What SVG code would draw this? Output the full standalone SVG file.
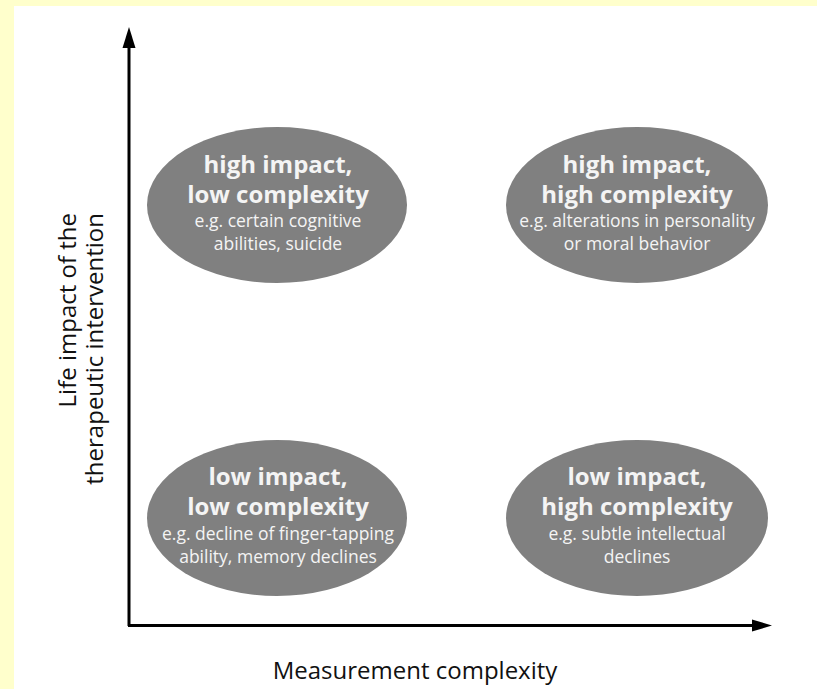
<svg xmlns="http://www.w3.org/2000/svg" width="817" height="689" viewBox="0 0 817 689">
  <style>
    .bubble { fill: #808080; }
    .head { font-family: "Open Sans", "Liberation Sans", sans-serif; font-weight: bold; font-size: 24px; fill: #f4f4f4; text-anchor: middle; }
    .note { font-family: "Open Sans", "Liberation Sans", sans-serif; font-size: 17.5px; fill: #f4f4f4; text-anchor: middle; }
    .axis-label { font-family: "Open Sans", "Liberation Sans", sans-serif; font-size: 24px; fill: #111; }
    .axis { stroke: #000; stroke-width: 3; fill: none; }
  </style>

  <!-- page background -->
  <rect x="0" y="0" width="817" height="689" fill="#ffffcc"/>
  <rect x="14" y="6" width="803" height="683" fill="#ffffff"/>

  <!-- axes -->
  <g id="connectors">
    <path class="axis" d="M129,626 L129,40"/>
    <path d="M129,27 L122.5,48 L135.5,48 z" fill="#000"/>
    <path class="axis" d="M128,625.5 L760,625.5"/>
    <path d="M772,625.5 L752,619.5 L752,631.5 z" fill="#000"/>
  </g>

  <!-- quadrants -->
  <g id="high-low">
    <ellipse class="bubble" cx="277" cy="205" rx="130" ry="78"/>
    <text class="head" x="278" y="173">high impact,</text>
    <text class="head" x="278" y="203">low complexity</text>
    <text class="note" x="278" y="227">e.g. certain cognitive</text>
    <text class="note" x="278" y="250">abilities, suicide</text>
  </g>

  <g id="high-high">
    <ellipse class="bubble" cx="637" cy="205" rx="131" ry="78"/>
    <text class="head" x="637" y="173">high impact,</text>
    <text class="head" x="637" y="203">high complexity</text>
    <text class="note" x="637" y="227">e.g. alterations in personality</text>
    <text class="note" x="637" y="250">or moral behavior</text>
  </g>

  <g id="low-low">
    <ellipse class="bubble" cx="277" cy="518" rx="130" ry="78"/>
    <text class="head" x="278" y="485">low impact,</text>
    <text class="head" x="278" y="515">low complexity</text>
    <text class="note" x="278" y="540">e.g. decline of finger-tapping</text>
    <text class="note" x="278" y="563">ability, memory declines</text>
  </g>

  <g id="low-high">
    <ellipse class="bubble" cx="637" cy="518" rx="131" ry="78"/>
    <text class="head" x="637" y="485">low impact,</text>
    <text class="head" x="637" y="515">high complexity</text>
    <text class="note" x="637" y="540">e.g. subtle intellectual</text>
    <text class="note" x="637" y="563">declines</text>
  </g>

  <!-- axis titles -->
  <g id="y-title">
    <text class="axis-label" text-anchor="end" transform="translate(76,213) rotate(-90)">Life impact of the</text>
    <text class="axis-label" text-anchor="end" transform="translate(103,213) rotate(-90)">therapeutic intervention</text>
  </g>
  <g id="x-title">
    <text class="axis-label" text-anchor="middle" x="415" y="679">Measurement complexity</text>
  </g>
</svg>
